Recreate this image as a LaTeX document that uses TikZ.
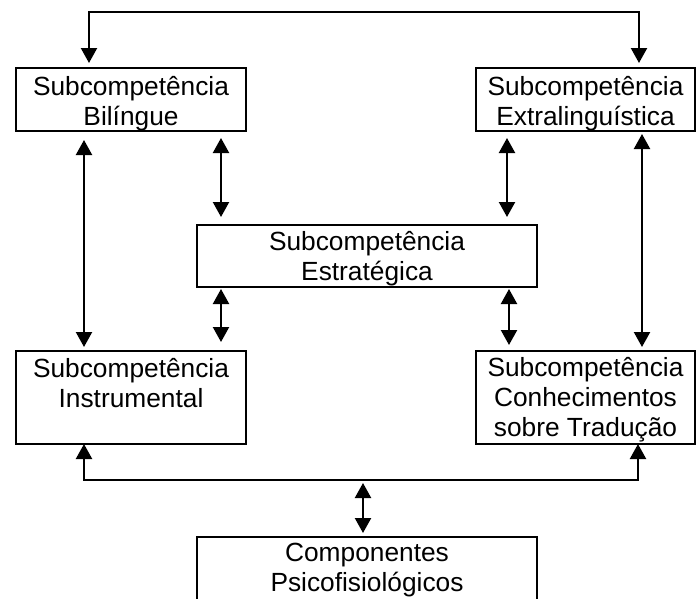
\documentclass[tikz,border=0pt]{standalone}
\usepackage{fontspec}
\setmainfont{Liberation Sans}
\usetikzlibrary{arrows.meta}
\begin{document}
\begin{tikzpicture}[x=1pt,y=-1pt,
  box/.style={draw=black,line width=2.4pt,rectangle,inner sep=0pt,outer sep=0pt},
  lbl/.style={align=center,inner sep=0pt,font=\fontsize{26.3}{30}\selectfont},
  conn/.style={line width=2.2pt},
  dbl/.style={conn,{Triangle[width=16pt,length=15pt]}-{Triangle[width=16pt,length=15pt]}}]
\useasboundingbox (0,0) rectangle (699,598);
\clip (0,0) rectangle (699,598);
% boxes
\node[box,minimum width=230pt,minimum height=63pt] (bil) at (131,99.5) {};
\node[box,minimum width=219pt,minimum height=63pt] (ext) at (585.5,99.5) {};
\node[box,minimum width=340pt,minimum height=62pt] (est) at (367,256) {};
\node[box,minimum width=230pt,minimum height=93pt] (ins) at (131,397.5) {};
\node[box,minimum width=219pt,minimum height=93pt] (con) at (585.5,397.5) {};
\node[box,minimum width=340pt,minimum height=63pt] (comp) at (367,568.5) {};
% labels
\node[lbl] (bilT) at (131,104) {Subcompetência\\Bilíngue};
\node[lbl] (extT) at (585.5,104) {Subcompetência\\Extralinguística};
\node[lbl] (estT) at (367,259) {Subcompetência\\Estratégica};
\node[lbl] (insT) at (131,383) {Subcompetência\\Instrumental};
\node[lbl] (conT) at (585.5,400) {Subcompetência\\Conhecimentos\\sobre Tradução};
\node[lbl] (compT) at (367,570) {Componentes\\Psicofisiológicos};
% top connector
\coordinate (tl) at (89,12);
\coordinate (tr) at (639,12);
\draw[conn,{Triangle[width=16pt,length=15pt]}-{Triangle[width=16pt,length=15pt]},shorten <=5pt,shorten >=5pt]
  (tl |- bil.north) -- (tl) -- (tr) -- (tr |- ext.north);
% vertical double arrows
\draw[dbl,shorten <=9pt,shorten >=4pt] (84,0 |- bil.south) -- (84,0 |- ins.north);
\draw[dbl,shorten <=7pt,shorten >=8pt] (221,0 |- bil.south) -- (221,0 |- est.north);
\draw[dbl,shorten <=2pt,shorten >=9pt] (221,0 |- est.south) -- (221,0 |- ins.north);
\draw[dbl,shorten <=7pt,shorten >=8pt] (507,0 |- ext.south) -- (507,0 |- est.north);
\draw[dbl,shorten <=2pt,shorten >=6pt] (509,0 |- est.south) -- (509,0 |- con.north);
\draw[dbl,shorten <=3pt,shorten >=4pt] (642,0 |- ext.south) -- (642,0 |- con.north);
% bottom connector
\coordinate (bl) at (84,480);
\coordinate (br) at (638,480);
\draw[dbl] (bl |- ins.south) -- (bl) -- (br) -- (br |- con.south);
\coordinate (bm) at (363,480);
\draw[dbl,shorten <=3pt,shorten >=4pt] (bm) -- (bm |- comp.north);
\end{tikzpicture}
\end{document}
